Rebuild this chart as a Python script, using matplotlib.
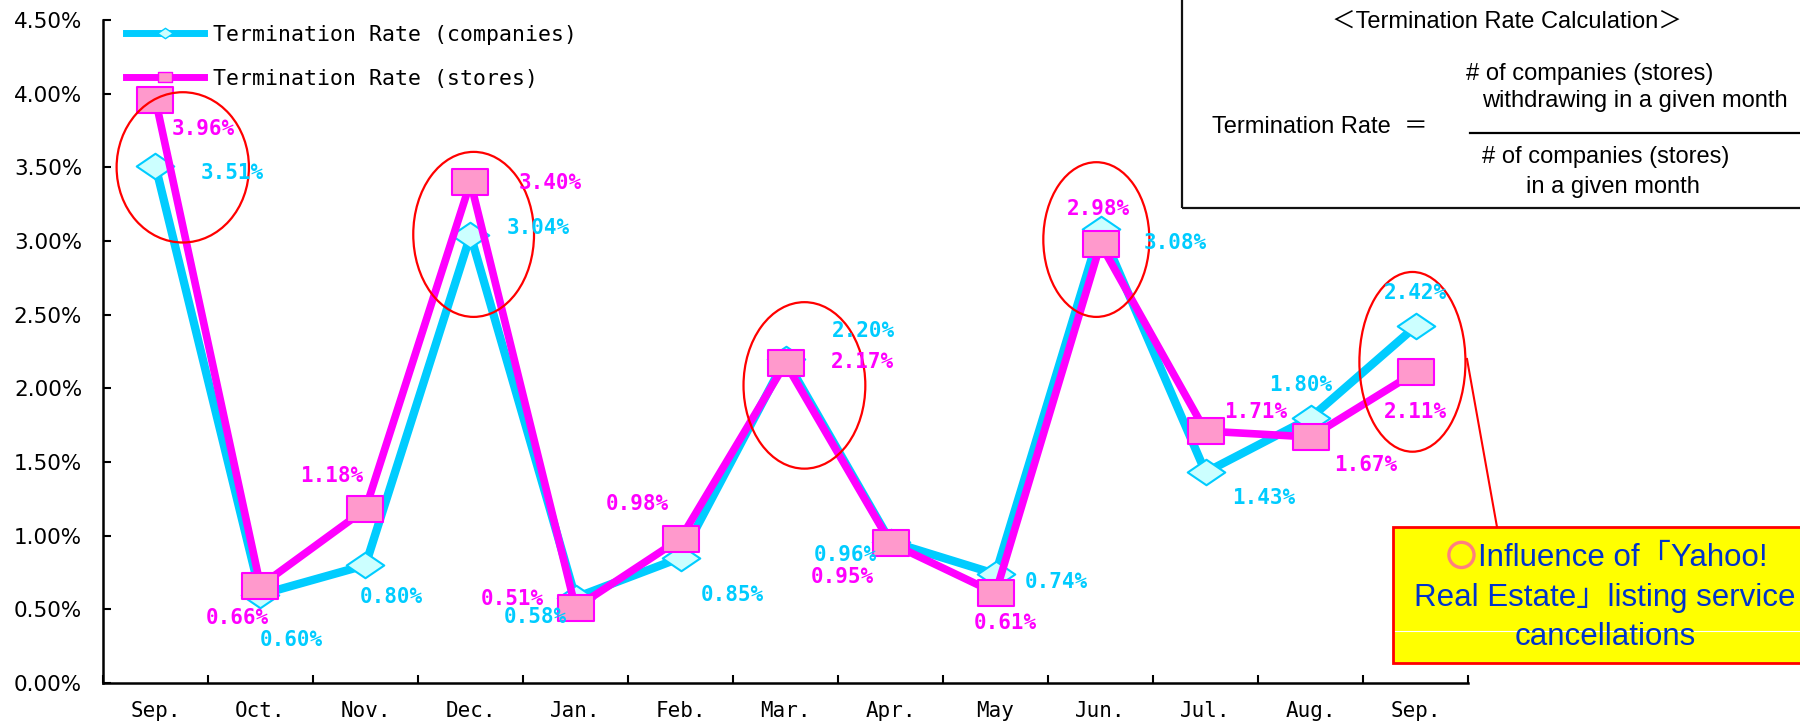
import matplotlib
matplotlib.use('Agg')
import matplotlib.pyplot as plt
import matplotlib.patheffects as pe
from matplotlib.patches import Ellipse, Rectangle
from matplotlib.lines import Line2D
from matplotlib.path import Path
import numpy as np

months = ['Sep.', 'Oct.', 'Nov.', 'Dec.', 'Jan.', 'Feb.', 'Mar.',
          'Apr.', 'May', 'Jun.', 'Jul.', 'Aug.', 'Sep.']
rate_companies = [3.51, 0.60, 0.80, 3.04, 0.58, 0.85, 2.20, 0.96, 0.74, 3.08, 1.43, 1.80, 2.42]
rate_stores = [3.96, 0.66, 1.18, 3.40, 0.51, 0.98, 2.17, 0.95, 0.61, 2.98, 1.71, 1.67, 2.11]
y_ticks = [0.0, 0.5, 1.0, 1.5, 2.0, 2.5, 3.0, 3.5, 4.0, 4.5]

# label offsets from each point, in pixels
off_companies = [(77, -7), (31, -45), (26, -32), (68, 7), (-40, -19), (52, -37), (78, 28),
                 (-45, -13), (61, -8), (75, -14), (58, -26), (-10, 33), (0, 33)]
off_stores = [(48, -29), (-23, -32), (-34, 33), (80, -1), (-63, 9), (-43, 35), (77, 1),
              (-48, -34), (10, -30), (-2, 35), (50, 19), (55, -28), (0, -40)]

# red rings around the peaks (x, y, width, height in data units)
rings = [(0.26, 3.50, 1.26, 1.02), (3.03, 3.045, 1.15, 1.12), (6.18, 2.02, 1.16, 1.13),
         (8.96, 3.01, 1.01, 1.05), (11.97, 2.18, 1.01, 1.22)]

CYAN = '#00CCFF'
MAGENTA = '#FF00FF'
W, H = 1800, 723


def fx(x):
    return x / W


def fy(y):
    return 1 - y / H


diamond = Path([(-1, 0), (0, 0.68), (1, 0), (0, -0.68), (-1, 0)],
               [Path.MOVETO, Path.LINETO, Path.LINETO, Path.LINETO, Path.CLOSEPOLY])
rect = Path([(-1, -0.7), (1, -0.7), (1, 0.7), (-1, 0.7), (-1, -0.7)],
            [Path.MOVETO, Path.LINETO, Path.LINETO, Path.LINETO, Path.CLOSEPOLY])

fig = plt.figure(figsize=(18, 7.23), dpi=100)
ax = fig.add_axes([0.0572, 0.0553, 0.7584, 0.917])

x = np.arange(len(months))
ax.plot(x, rate_companies, color=CYAN, lw=6, marker=diamond, markersize=27,
        markerfacecolor='#CCFFFF', markeredgecolor=CYAN, markeredgewidth=1.5, zorder=3)
ax.plot(x, rate_stores, color=MAGENTA, lw=5.5, marker=rect, markersize=26,
        markerfacecolor='#FF99CC', markeredgecolor=MAGENTA, markeredgewidth=1.5, zorder=4)

for xi, v, (dx, dy) in zip(x, rate_companies, off_companies):
    ax.annotate(f'{v:.2f}%', xy=(xi, v), xytext=(dx, dy), textcoords='offset pixels',
                ha='center', va='center', color=CYAN, fontsize=15, fontweight='bold',
                family='DejaVu Sans Mono', zorder=6)
for xi, v, (dx, dy) in zip(x, rate_stores, off_stores):
    ax.annotate(f'{v:.2f}%', xy=(xi, v), xytext=(dx, dy), textcoords='offset pixels',
                ha='center', va='center', color=MAGENTA, fontsize=15, fontweight='bold',
                family='DejaVu Sans Mono', zorder=6)

for cx, cy, w, h in rings:
    ax.add_patch(Ellipse((cx, cy), w, h, fill=False, edgecolor='#FF0000', lw=1.6, zorder=5))

ax.set_xlim(-0.5, len(months) - 0.5)
ax.set_ylim(0, 4.5)
ax.set_xticks(np.arange(-0.5, len(months), 1))
ax.set_xticklabels([])
ax.set_xticks(x, labels=months, minor=True)
ax.tick_params(axis='x', which='major', direction='in', length=6, width=1.5)
ax.tick_params(axis='x', which='minor', length=0, pad=13)
for lab in ax.get_xticklabels(minor=True):
    lab.set_family('DejaVu Sans Mono')
    lab.set_fontsize(15)
ax.set_yticks(y_ticks, labels=[f'{v:.2f}%' for v in y_ticks])
ax.tick_params(axis='y', direction='in', length=6, width=1.5, pad=15, labelsize=15.5)
for s in ['top', 'right']:
    ax.spines[s].set_visible(False)
for s in ['left', 'bottom']:
    ax.spines[s].set_linewidth(1.8)

handles = [
    Line2D([], [], color=CYAN, lw=5, marker=diamond, markersize=11,
           markerfacecolor='#CCFFFF', markeredgecolor=CYAN, markeredgewidth=1),
    Line2D([], [], color=MAGENTA, lw=5, marker=rect, markersize=10,
           markerfacecolor='#FF99CC', markeredgecolor=MAGENTA, markeredgewidth=1),
]
fig.legend(handles, ['Termination Rate (companies)', 'Termination Rate (stores)'],
           loc='upper left', bbox_to_anchor=(fx(126), fy(25)), frameon=False,
           prop={'family': 'DejaVu Sans Mono', 'size': 15.5}, handlelength=3.6,
           handletextpad=0.45, labelspacing=1.1, borderpad=0, borderaxespad=0)

# formula box
fam = ['Liberation Sans', 'Noto Sans CJK JP']
fsz = 17
fig.add_artist(Rectangle((fx(1182), fy(208)), (1820 - 1182) / W, 230 / H,
                         transform=fig.transFigure, fill=False, lw=1.6, edgecolor='#111111'))
fig.text(fx(1507), fy(22), '＜Termination Rate Calculation＞', ha='center', va='center',
         fontsize=fsz, family=fam)
fig.text(fx(1590), fy(74), '# of companies (stores)', ha='center', va='center',
         fontsize=fsz, family=fam)
fig.text(fx(1635), fy(101), 'withdrawing in a given month', ha='center', va='center',
         fontsize=fsz, family=fam)
fig.add_artist(Line2D([fx(1470), fx(1800)], [fy(133), fy(133)], color='black', lw=1.6))
fig.text(fx(1606), fy(157), '# of companies (stores)', ha='center', va='center',
         fontsize=fsz, family=fam)
fig.text(fx(1613), fy(187), 'in a given month', ha='center', va='center',
         fontsize=fsz, family=fam)
fig.text(fx(1212), fy(127), 'Termination Rate  ＝', ha='left', va='center',
         fontsize=fsz, family=fam)

# callout box
fig.add_artist(Line2D([fx(1467), fx(1497)], [fy(359), fy(527)], color='#FF0000', lw=1.5))
fig.add_artist(Rectangle((fx(1393), fy(663)), (1820 - 1393) / W, (663 - 527) / H,
                         transform=fig.transFigure, facecolor='#FFFF00',
                         edgecolor='#FF0000', lw=2))
fig.add_artist(Line2D([fx(1395), fx(1800)], [fy(631), fy(631)], color='white', lw=0.8))
BLUE = '#0033CC'
fig.text(fx(1476), fy(558), '○', ha='right', va='center', fontsize=21,
         color='#FF7F7F', family=['Noto Sans CJK JP'],
         path_effects=[pe.withStroke(linewidth=1.6, foreground='#FF7F7F')])
fig.text(fx(1478), fy(558), 'Influence of「Yahoo!', ha='left', va='center',
         fontsize=22.5, color=BLUE, family=fam)
fig.text(fx(1605), fy(598), 'Real Estate」listing service', ha='center', va='center',
         fontsize=22.5, color=BLUE, family=fam)
fig.text(fx(1605), fy(637), 'cancellations', ha='center', va='center',
         fontsize=22.5, color=BLUE, family=fam)

fig.savefig('out.png', dpi=100)
